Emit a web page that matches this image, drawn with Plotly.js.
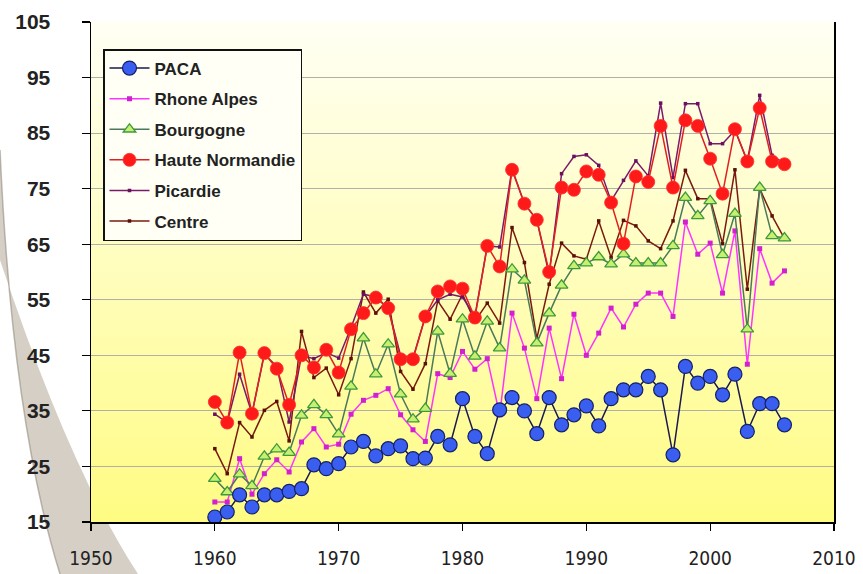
<!DOCTYPE html>
<html>
<head>
<meta charset="utf-8">
<script src="https://cdn.plot.ly/plotly-3.0.1.min.js"></script>
<style>
html,body{margin:0;padding:0;background:#fff;}
#chart{width:863px;height:574px;}
</style>
</head>
<body>
<div id="chart"></div>
<script>
const years = [1960,1961,1962,1963,1964,1965,1966,1967,1968,1969,
               1970,1971,1972,1973,1974,1975,1976,1977,1978,1979,
               1980,1981,1982,1983,1984,1985,1986,1987,1988,1989,
               1990,1991,1992,1993,1994,1995,1996,1997,1998,1999,
               2000,2001,2002,2003,2004,2005,2006];

const paca = [15.9,16.8,19.9,17.7,19.9,19.9,20.5,21.0,25.3,24.6,
              25.5,28.5,29.5,26.9,28.2,28.7,26.4,26.5,30.4,28.9,
              37.2,30.4,27.3,35.2,37.4,35.0,30.9,37.4,32.5,34.3,
              35.9,32.3,37.2,38.8,38.8,41.2,38.8,27.1,43.0,40.0,
              41.2,37.9,41.6,31.3,36.3,36.3,32.5];

const rhoneAlpes = [18.6,18.6,26.4,20.0,23.7,26.2,24.0,29.4,31.8,28.5,
                    29.0,34.4,36.9,37.8,39.0,34.3,31.6,29.5,41.7,41.0,
                    45.7,42.5,44.4,34.3,52.6,46.3,37.2,49.9,40.8,52.4,
                    45.0,49.0,53.5,50.1,54.2,56.2,56.2,52.0,69.0,63.2,
                    65.2,56.2,67.4,43.4,64.2,58.0,60.2];

const bourgogne = [22.8,20.4,23.6,21.5,26.8,28.1,27.5,34.2,36.1,34.3,
                   30.8,39.4,48.1,41.6,47.0,38.0,33.5,35.4,49.3,41.7,
                   51.5,44.8,51.1,46.3,60.5,58.5,47.2,52.6,57.6,61.1,
                   61.6,62.7,61.4,63.2,61.6,61.6,61.6,64.7,73.4,70.1,
                   72.8,63.1,70.5,49.7,75.2,66.5,66.1];

const hauteNormandie = [36.6,32.9,45.5,34.5,45.4,42.6,36.1,45.0,42.8,46.0,
                        41.9,49.7,52.6,55.4,53.5,44.3,44.3,52.0,56.5,57.4,
                        57.0,51.8,64.7,61.0,78.4,72.3,69.4,60.0,75.2,74.8,
                        78.1,77.5,72.5,65.1,77.2,76.2,86.3,75.2,87.3,86.3,
                        80.4,74.1,85.7,79.9,89.5,79.9,79.4];

const picardie = [34.4,32.9,41.6,34.5,45.2,43.0,33.0,45.0,44.4,45.5,
                  44.5,50.0,56.0,55.5,53.5,45.0,44.5,52.0,55.0,56.0,
                  55.5,52.0,64.7,64.5,78.6,72.3,69.4,59.5,77.7,80.8,
                  81.1,79.2,72.8,76.5,80.0,77.3,90.4,77.0,90.3,90.3,
                  83.1,83.1,85.5,80.0,91.8,81.0,79.5];

const centre = [28.2,23.7,32.9,30.3,35.1,36.7,29.6,49.3,41.0,42.7,
                37.9,44.4,56.4,52.6,55.1,42.1,38.9,43.5,54.8,51.5,
                56.0,51.1,54.4,50.8,68.0,61.7,48.0,57.8,65.2,62.9,
                62.3,69.2,62.6,69.3,68.3,65.6,64.2,69.2,78.3,73.2,
                73.2,65.1,78.4,56.9,75.0,70.1,66.0];

const seriesNames = ['PACA','Rhone Alpes','Bourgogne','Haute Normandie','Picardie','Centre'];

// ---- styling / layout below ----
const W = 863, H = 574;
const M = {l: 91, r: 29, t: 22, b: 52};
const plotW = W - M.l - M.r, plotH = H - M.t - M.b;
function px(x){ return (x - M.l) / plotW; }
function py(y){ return (H - M.b - y) / plotH; }

const traces = [
  {name: seriesNames[5], x: years, y: centre, mode: 'lines+markers', legendrank: 6,
   line: {color: '#7a1a10', width: 1.5},
   marker: {symbol: 'square', size: 3.5, color: '#5a1008'}},
  {name: seriesNames[1], x: years, y: rhoneAlpes, mode: 'lines+markers', legendrank: 2,
   line: {color: '#ff33ff', width: 1.5},
   marker: {symbol: 'square', size: 5, color: '#d020d0'}},
  {name: seriesNames[2], x: years, y: bourgogne, mode: 'lines+markers', legendrank: 3,
   line: {color: '#4a7a5a', width: 1.5},
   marker: {symbol: 'triangle-up', size: 11, color: '#c8f070', line: {color: '#3c9a3c', width: 1.3}}},
  {name: seriesNames[4], x: years, y: picardie, mode: 'lines+markers', legendrank: 5,
   line: {color: '#7a1a6a', width: 1.5},
   marker: {symbol: 'square', size: 3.5, color: '#6a1060'}},
  {name: seriesNames[3], x: years, y: hauteNormandie, mode: 'lines+markers', legendrank: 4,
   line: {color: '#e02020', width: 1.5},
   marker: {symbol: 'circle', size: 13, color: '#ff1a1a', line: {color: '#ff3030', width: 0.8}}},
  {name: seriesNames[0], x: years, y: paca, mode: 'lines+markers', legendrank: 1,
   line: {color: '#1a1a50', width: 1.5},
   marker: {symbol: 'circle', size: 14, color: '#3a5ff0', line: {color: '#14206a', width: 1.2}}}
];
traces.forEach((t, i) => { t.legendgroup = 'g' + i; });

const shapes = [];
// page-curl decoration on the left (drawn first, outside the plot area)
shapes.push({type: 'path', xref: 'paper', yref: 'paper', layer: 'below',
  path: `M ${px(0)} ${py(150)} Q ${px(12)} ${py(420)} ${px(60)} ${py(574)} L ${px(138)} ${py(574)} Q ${px(70)} ${py(470)} ${px(0)} ${py(260)} Z`,
  fillcolor: 'rgba(185,175,160,0.6)', line: {width: 0}});
shapes.push({type: 'path', xref: 'paper', yref: 'paper', layer: 'below',
  path: `M ${px(0)} ${py(150)} Q ${px(12)} ${py(420)} ${px(60)} ${py(574)}`,
  line: {color: 'rgba(150,140,128,0.6)', width: 1.5}});
// plot-area vertical gradient
const N = 60;
for (let i = 0; i < N; i++) {
  const f = i / (N - 1);
  const b = Math.round(0xF4 + (0x84 - 0xF4) * f);
  const g = Math.round(0xFF + (0xFC - 0xFF) * f);
  shapes.push({type: 'rect', xref: 'paper', yref: 'paper', layer: 'below',
    x0: 0, x1: 1, y0: 1 - (i + 1) / N, y1: 1 - i / N + 0.002,
    fillcolor: `rgb(255,${g},${b})`, line: {width: 0}});
}

const layout = {
  width: W, height: H,
  margin: M,
  paper_bgcolor: '#ffffff',
  plot_bgcolor: 'rgba(0,0,0,0)',
  showlegend: true,
  legend: {
    x: px(103), y: py(49), xanchor: 'left', yanchor: 'top',
    bgcolor: '#fffff6', bordercolor: '#111', borderwidth: 1.5,
    font: {family: 'Liberation Sans, Arial, sans-serif', size: 17, color: '#222', weight: 'bold'},
    tracegroupgap: 5.5, traceorder: 'grouped', itemwidth: 40
  },
  xaxis: {
    range: [1950, 2010], tick0: 1950, dtick: 10,
    ticks: 'outside', ticklen: 7, tickcolor: '#000', tickwidth: 1.2,
    showline: true, linecolor: '#000', linewidth: 1.5,
    showgrid: false, zeroline: false, ticklabelstandoff: 12,
    tickfont: {family: 'Liberation Sans Narrow, Arial Narrow, DejaVu Sans Condensed, sans-serif', size: 19, color: '#222'}
  },
  yaxis: {
    range: [15, 105], tick0: 15, dtick: 10,
    ticks: 'outside', ticklen: 8, tickcolor: '#000', tickwidth: 1.2,
    showline: true, linecolor: '#000', linewidth: 1.5, mirror: true,
    showgrid: true, gridcolor: '#b0b0a8', gridwidth: 1, zeroline: false,
    ticklabelstandoff: 27,
    tickfont: {family: 'Liberation Sans, Arial, sans-serif', size: 21, color: '#222', weight: 'bold'}
  },
  shapes: shapes
};

Plotly.newPlot('chart', traces, layout, {displayModeBar: false, staticPlot: true});
</script>
</body>
</html>
